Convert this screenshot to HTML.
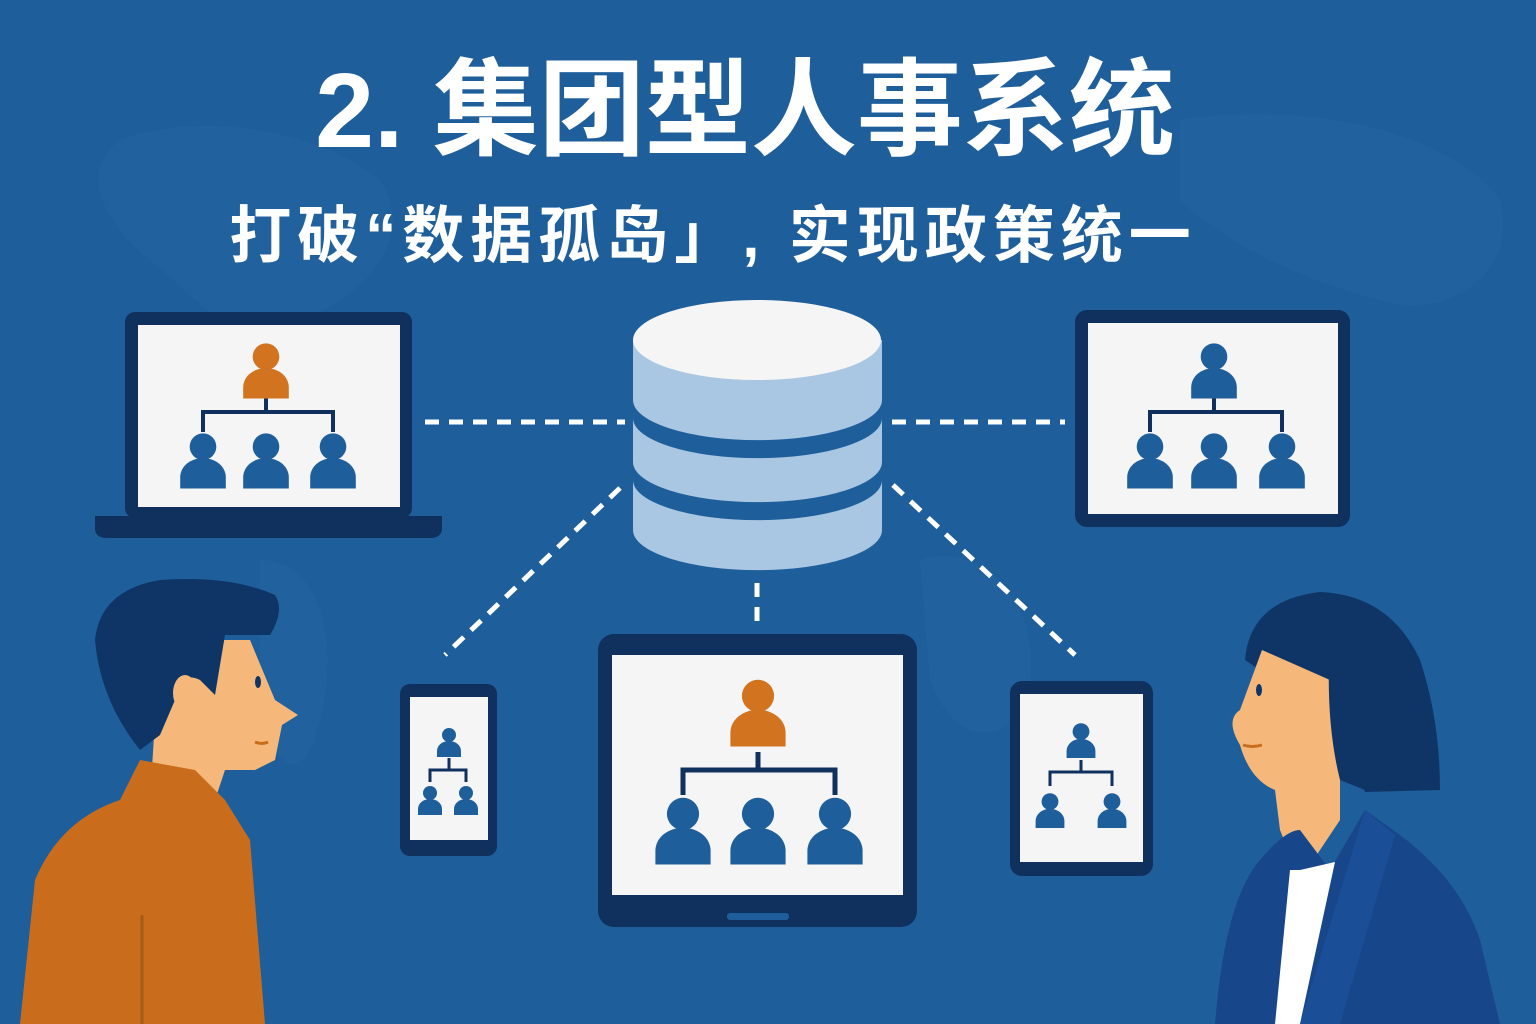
<!DOCTYPE html>
<html><head><meta charset="utf-8"><style>
html,body{margin:0;padding:0;background:#1e5e9b;}
svg{display:block}
</style></head><body>
<svg width="1536" height="1024" viewBox="0 0 1536 1024" xmlns="http://www.w3.org/2000/svg">
<defs>
<g id="p"><circle cx="0" cy="-14" r="14"/><path d="M-24 30 v-12 a24 20 0 0 1 48 0 v12z"/></g>
</defs>
<rect width="1536" height="1024" fill="#1e5e9b"/>
<g fill="#2a6aa6" opacity="0.3">
<path d="M120 140 C200 110 320 130 380 180 C420 240 360 300 300 320 C240 360 200 300 150 260 C100 220 80 170 120 140z"/>
<path d="M1180 120 C1300 100 1450 130 1500 200 C1520 280 1440 320 1380 300 C1300 280 1220 240 1180 200z"/>
<path d="M260 560 C320 560 340 640 320 720 C300 800 270 760 260 700z"/>
<path d="M920 560 C980 540 1040 600 1030 680 C1010 760 950 740 930 680z"/>
</g>
<text x="745" y="147" text-anchor="middle" font-family="Liberation Sans, Noto Sans CJK SC, sans-serif" font-weight="bold" font-size="106" fill="#fff">2. 集团型人事系统</text>
<text x="713" y="257" text-anchor="middle" font-family="Liberation Sans, Noto Sans CJK SC, sans-serif" font-weight="bold" font-size="62" letter-spacing="6" fill="#fff">打破“数据孤岛」, 实现政策统一</text>
<g stroke="#fff" stroke-width="5" stroke-dasharray="14 10" fill="none">
<line x1="425" y1="422" x2="625" y2="422"/>
<line x1="892" y1="422" x2="1065" y2="422"/>
<line x1="620" y1="488" x2="445" y2="655"/>
<line x1="893" y1="485" x2="1075" y2="655"/>
<line x1="757" y1="583" x2="757" y2="625"/>
</g>
<g>
<path d="M633 340 V530 A124 40 0 0 0 882 530 V340z" fill="#a9c7e2"/>
<path d="M633 400 A124 40 0 0 0 882 400 V418 A124 40 0 0 1 633 418z" fill="#1e5e9b"/>
<path d="M633 462 A124 40 0 0 0 882 462 V480 A124 40 0 0 1 633 480z" fill="#1e5e9b"/>
<ellipse cx="757" cy="340" rx="124" ry="40" fill="#f5f5f5"/>
</g>
<rect x="125" y="312" width="287" height="206" rx="10" fill="#10305e"/>
<rect x="138" y="325" width="262" height="182" fill="#f5f5f5"/>
<path d="M95 516 H442 V528 Q442 538 430 538 H107 Q95 538 95 528z" fill="#10305e"/>
<g stroke="#10305e" stroke-width="4" fill="none"><path d="M266 398 V412 M203 432 V412 H333 V432"/></g>
<use href="#p" transform="translate(266,370) scale(0.95)" fill="#d2731f"/>
<g fill="#1e5e9b"><use href="#p" transform="translate(203,460) scale(0.95)"/><use href="#p" transform="translate(266,460) scale(0.95)"/><use href="#p" transform="translate(333,460) scale(0.95)"/></g>
<rect x="1075" y="310" width="275" height="217" rx="12" fill="#10305e"/>
<rect x="1088" y="323" width="250" height="191" fill="#f5f5f5"/>
<g stroke="#10305e" stroke-width="4" fill="none"><path d="M1214 398 V412 M1150 432 V412 H1282 V432"/></g>
<use href="#p" transform="translate(1214,370) scale(0.95)" fill="#1e5e9b"/>
<g fill="#1e5e9b"><use href="#p" transform="translate(1150,460) scale(0.95)"/><use href="#p" transform="translate(1214,460) scale(0.95)"/><use href="#p" transform="translate(1282,460) scale(0.95)"/></g>
<rect x="400" y="684" width="97" height="172" rx="10" fill="#10305e"/>
<rect x="410" y="697" width="78" height="143" fill="#f5f5f5"/>
<g stroke="#10305e" stroke-width="3" fill="none"><path d="M449 758 V770 M430 782 V770 H466 V782"/></g>
<use href="#p" transform="translate(449,742) scale(0.5)" fill="#1e5e9b"/>
<g fill="#1e5e9b"><use href="#p" transform="translate(430,800) scale(0.5)"/><use href="#p" transform="translate(466,800) scale(0.5)"/></g>
<rect x="598" y="634" width="319" height="293" rx="16" fill="#10305e"/>
<rect x="612" y="655" width="291" height="240" fill="#f5f5f5"/>
<rect x="727" y="913" width="62" height="7" rx="3" fill="#1e5e9b"/>
<g stroke="#10305e" stroke-width="5" fill="none"><path d="M758 752 V770 M683 795 V770 H835 V795"/></g>
<use href="#p" transform="translate(758,712) scale(1.15)" fill="#d2731f"/>
<g fill="#1e5e9b"><use href="#p" transform="translate(683,830) scale(1.15)"/><use href="#p" transform="translate(758,830) scale(1.15)"/><use href="#p" transform="translate(835,830) scale(1.15)"/></g>
<rect x="1010" y="681" width="143" height="195" rx="12" fill="#10305e"/>
<rect x="1020" y="694" width="123" height="168" fill="#f5f5f5"/>
<g stroke="#10305e" stroke-width="3" fill="none"><path d="M1081 760 V772 M1050 786 V772 H1112 V786"/></g>
<use href="#p" transform="translate(1081,740) scale(0.6)" fill="#1e5e9b"/>
<g fill="#1e5e9b"><use href="#p" transform="translate(1050,810) scale(0.6)"/><use href="#p" transform="translate(1112,810) scale(0.6)"/></g>
<path d="M160 640 L250 640 L275 700 L298 715 L282 725 L275 760 L255 770 L225 770 L215 800 L150 800z" fill="#f6b87a"/>
<path d="M120 800 L140 760 L195 770 L225 800 L250 840 L265 1024 L20 1024 L35 880 Q60 820 120 800z" fill="#c96d1c"/>
<line x1="142" y1="915" x2="142" y2="1024" stroke="#a55a15" stroke-width="3"/>
<path d="M95 640 Q100 590 160 580 Q230 575 275 595 Q285 610 270 635 L225 635 L215 695 L200 680 Q180 670 175 700 L160 735 L140 750 Q100 700 95 640z" fill="#0f3566"/>
<ellipse cx="185" cy="693" rx="12" ry="18" fill="#f6b87a"/>
<ellipse cx="258" cy="682" rx="3" ry="6" fill="#0f3566"/>
<path d="M255 742 Q262 745 268 742" stroke="#c96d1c" stroke-width="3" fill="none"/>
<path d="M1245 660 Q1250 600 1320 592 Q1390 595 1420 660 Q1440 720 1440 790 L1365 792 L1340 720 Q1290 700 1260 670z" fill="#0f3566"/>
<path d="M1262 650 L1330 680 L1355 700 L1340 780 L1340 820 L1300 880 L1280 830 L1275 790 Q1250 780 1240 745 Q1225 720 1240 710z" fill="#f6b87a"/>
<path d="M1330 640 Q1345 700 1372 705 L1365 790 L1340 780 Q1325 720 1330 640z" fill="#0f3566"/>
<ellipse cx="1259" cy="690" rx="3" ry="6" fill="#0f3566"/>
<path d="M1243 745 Q1252 748 1262 745" stroke="#c96d1c" stroke-width="3" fill="none"/>
<path d="M1260 860 Q1285 830 1300 830 L1330 870 L1365 810 L1400 835 Q1460 880 1480 940 L1500 1024 L1215 1024 Q1225 900 1260 860z" fill="#17468a"/>
<path d="M1290 870 L1300 870 L1335 862 L1300 1024 L1275 1024z" fill="#fff"/>
<path d="M1365 810 L1395 835 L1340 1024 L1300 1024z" fill="#1a4f97"/>
</svg>
</body></html>
